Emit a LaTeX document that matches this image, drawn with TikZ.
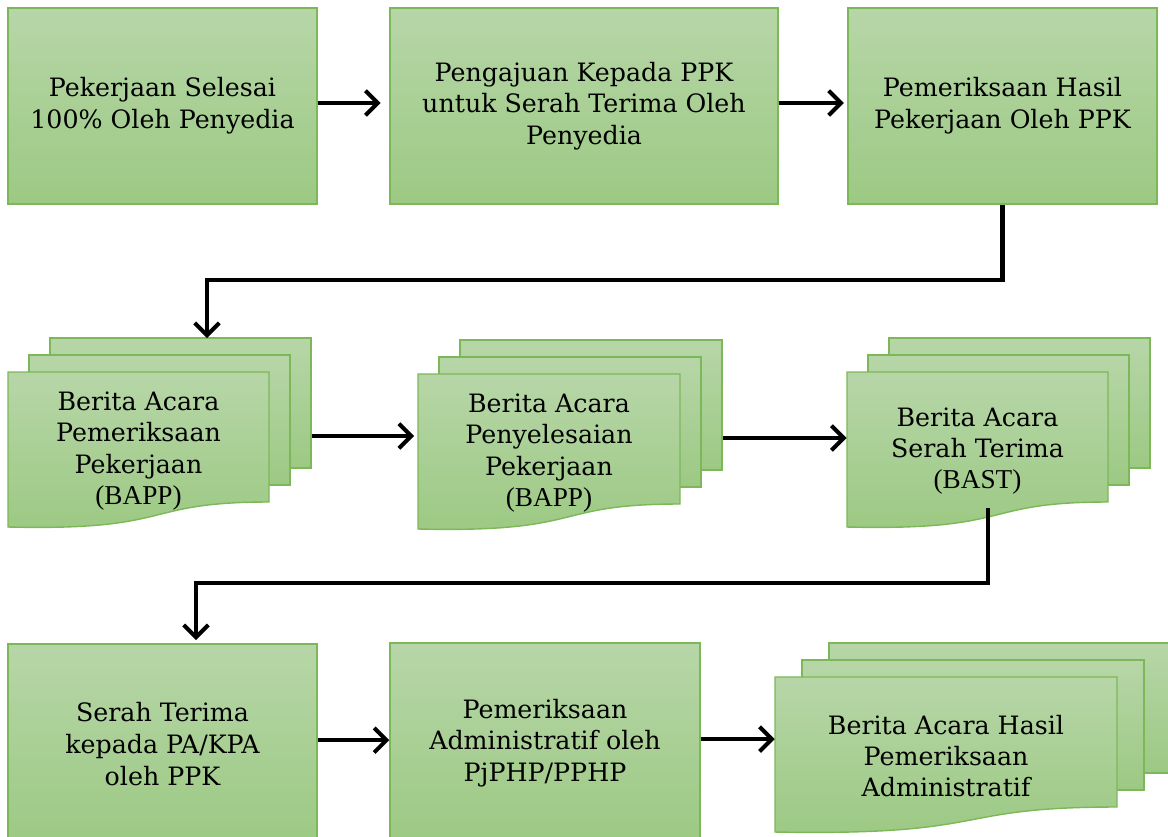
\documentclass[tikz,border=0pt]{standalone}
\usepackage{fontspec}
\setmainfont{DejaVu Serif}
\newfontfamily\tnrfont{Liberation Serif}
\usetikzlibrary{arrows.meta}

\definecolor{gtop}{RGB}{183,214,168}
\definecolor{gbot}{RGB}{156,201,131}
\definecolor{gline}{RGB}{125,184,88}

\tikzset{
  box/.style={draw=gline,line width=0.8pt,top color=gtop,bottom color=gbot,
    align=center,font=\fontsize{14.4}{18}\selectfont,inner sep=0pt},
  sheet/.style={draw=gline,line width=0.8pt,top color=gtop,bottom color=gbot},
  doctext/.style={align=center,font=\fontsize{14.4}{17.8}\selectfont,inner sep=0pt},
  arr/.style={line width=2.3pt,-{Straight Barb[length=7pt,width=14pt]}},
}

% stack of three sheets: name, left x, top y, width, shift, text
\newcommand{\docstack}[6]{%
  \draw[sheet] (#2+2*#5,#3-34) rectangle ++(#4,130);
  \draw[sheet] (#2+#5,#3-17) rectangle ++(#4,130);
  \draw[sheet] (#2,#3) -- ++(#4,0) -- ++(0,130)
    .. controls ++(-0.5*#4,0) and ++(0.65*#4,4) .. (#2,#3+155) -- cycle;
  \node[doctext,minimum width=#4*0.02cm,minimum height=3.1cm] (#1) at (#2+#4/2,#3+79) {#6};
  \coordinate (#1-out) at (#2+#4+2*#5+1,#3+64);
}

\begin{document}
\begin{tikzpicture}[x=0.02cm,y=-0.02cm]
  \useasboundingbox (0,0) rectangle (1168,836);
  \clip (0,0) rectangle (1168,836);

  % first row
  \node[box,minimum width=6.18cm,minimum height=3.92cm] (selesai) at (162.5,106)
    {Pekerjaan Selesai\\100\% Oleh Penyedia};
  \node[box,minimum width=7.76cm,minimum height=3.92cm] (pengajuan) at (584,106)
    {Pengajuan Kepada PPK\\untuk Serah Terima Oleh\\Penyedia};
  \node[box,minimum width=6.18cm,minimum height=3.92cm] (periksa) at (1002.5,106)
    {Pemeriksaan Hasil\\Pekerjaan Oleh PPK};

  % second row
  \docstack{bapp}{8}{372}{261}{21}{Berita Acara\\Pemeriksaan\\Pekerjaan\\{\tnrfont\fontsize{15.5}{17.8}\selectfont (BAPP)}}
  \docstack{selesaiba}{418}{374}{262}{21}{Berita Acara\\Penyelesaian\\Pekerjaan\\{\tnrfont\fontsize{15.5}{17.8}\selectfont (BAPP)}}
  \docstack{bast}{847}{372}{261}{21}{Berita Acara\\Serah Terima\\{\tnrfont\fontsize{15.5}{17.8}\selectfont (BAST)}}

  % third row
  \node[box,minimum width=6.18cm,minimum height=4cm] (serah) at (162.5,744)
    {Serah Terima\\kepada PA/KPA\\oleh PPK};
  \node[box,minimum width=6.2cm,minimum height=4cm] (admin) at (545,743)
    {Pemeriksaan\\Administratif oleh\\PjPHP/PPHP};
  \docstack{hasil}{775}{677}{342}{27}{Berita Acara Hasil\\Pemeriksaan\\Administratif}

  \coordinate (bapp-in) at (207,338);
  \coordinate (bast-down) at (988,508);
  \coordinate (serah-in) at (196,640);

  % arrows
  \draw[arr,shorten >=5pt] ([yshift=1.7pt]selesai.east) -- ([yshift=1.7pt]selesai.east -| pengajuan.west);
  \draw[arr,shorten >=2pt] ([yshift=1.7pt]pengajuan.east) -- ([yshift=1.7pt]pengajuan.east -| periksa.west);
  \draw[arr] (periksa.south) -- ++(0,75) -| (bapp-in);
  \draw[arr,shorten >=2pt] (bapp-out) -- (bapp-out -| selesaiba.west);
  \draw[arr] (selesaiba-out) -- (selesaiba-out -| bast.west);
  \draw[arr] (bast-down) -- ++(0,75) -| (serah-in);
  \draw[arr] ([yshift=2.2pt]serah.east) -- ([yshift=2.2pt]serah.east -| admin.west);
  \draw[arr] ([yshift=2.2pt]admin.east) -- ([yshift=2.2pt]admin.east -| hasil.west);
\end{tikzpicture}
\end{document}
